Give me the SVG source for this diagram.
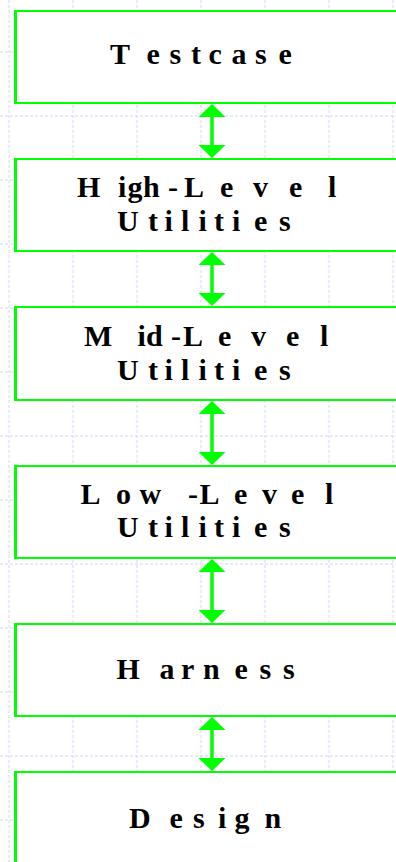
<svg xmlns="http://www.w3.org/2000/svg" width="396" height="862" viewBox="0 0 396 862">
<defs>
<style>
.grid line{stroke:#cfd6f5;stroke-width:1;stroke-dasharray:3 2}
.box rect{fill:#fff;stroke:#00ff00;stroke-width:2}
.box line{stroke:#00ff00;stroke-width:3}
.lbl{font-family:"Liberation Serif","Times New Roman",serif;font-weight:bold;font-size:30px;fill:#000}
.conn line{stroke:#00ff00;stroke-width:3.5}
</style>
<marker id="ah" viewBox="0 0 13 27" refX="1" refY="13.5" markerWidth="13" markerHeight="27" markerUnits="userSpaceOnUse" orient="auto-start-reverse">
<path d="M0,0 L13,13.5 L0,27 z" fill="#00ff00"/>
</marker>
</defs>
<rect width="396" height="862" fill="#fff"/>
<g class="grid">
<line x1="9" y1="0" x2="9" y2="862"/>
<line x1="73" y1="0" x2="73" y2="862"/>
<line x1="137" y1="0" x2="137" y2="862"/>
<line x1="201" y1="0" x2="201" y2="862"/>
<line x1="265" y1="0" x2="265" y2="862"/>
<line x1="329" y1="0" x2="329" y2="862"/>
<line x1="393" y1="0" x2="393" y2="862"/>
<line x1="0" y1="52" x2="396" y2="52"/>
<line x1="0" y1="116" x2="396" y2="116"/>
<line x1="0" y1="180" x2="396" y2="180"/>
<line x1="0" y1="244" x2="396" y2="244"/>
<line x1="0" y1="308" x2="396" y2="308"/>
<line x1="0" y1="372" x2="396" y2="372"/>
<line x1="0" y1="436" x2="396" y2="436"/>
<line x1="0" y1="500" x2="396" y2="500"/>
<line x1="0" y1="564" x2="396" y2="564"/>
<line x1="0" y1="628" x2="396" y2="628"/>
<line x1="0" y1="692" x2="396" y2="692"/>
<line x1="0" y1="756" x2="396" y2="756"/>
<line x1="0" y1="820" x2="396" y2="820"/>
</g>
<g id="testcase" class="box">
<rect x="15" y="11" width="400" height="92"/>
<line x1="15.5" y1="10" x2="15.5" y2="104"/>
<text class="lbl" x="110 146.5 169.5 191 208.5 231.5 255 278.5" y="64">Testcase</text>
</g>
<g id="high-level" class="box">
<rect x="15" y="159" width="400" height="92"/>
<line x1="15.5" y1="158" x2="15.5" y2="252"/>
<text class="lbl" x="77 118 127.5 143 168 184 220 253 289 328" y="197">High-Level</text>
<text class="lbl" x="117 148 164.5 181 198.5 214 232 254 279" y="231">Utilities</text>
</g>
<g id="mid-level" class="box">
<rect x="15" y="307" width="400" height="93"/>
<line x1="15.5" y1="306" x2="15.5" y2="401"/>
<text class="lbl" x="84 137.5 146 171 183 218 251 286 320" y="346">Mid-Level</text>
<text class="lbl" x="117 148 164.5 181 198.5 214 232 254 279" y="380">Utilities</text>
</g>
<g id="low-level" class="box">
<rect x="15" y="466" width="400" height="92"/>
<line x1="15.5" y1="465" x2="15.5" y2="559"/>
<text class="lbl" x="80.5 116 139.5 188 199.5 234 262 291 325" y="504">Low-Level</text>
<text class="lbl" x="117 148 164.5 181 198.5 214 232 254 279" y="537">Utilities</text>
</g>
<g id="harness" class="box">
<rect x="15" y="624" width="400" height="92"/>
<line x1="15.5" y1="623" x2="15.5" y2="717"/>
<text class="lbl" x="116.5 159.5 181 203 234.5 259.5 283" y="679">Harness</text>
</g>
<g id="design" class="box">
<rect x="15" y="772" width="400" height="100"/>
<line x1="15.5" y1="771" x2="15.5" y2="862"/>
<text class="lbl" x="129 169.5 193 218 234.5 264.5" y="828">Design</text>
</g>
<g id="connectors" class="conn">
<line x1="212" y1="116" x2="212" y2="146" marker-start="url(#ah)" marker-end="url(#ah)"/>
<line x1="212" y1="264" x2="212" y2="294" marker-start="url(#ah)" marker-end="url(#ah)"/>
<line x1="212" y1="413" x2="212" y2="453" marker-start="url(#ah)" marker-end="url(#ah)"/>
<line x1="212" y1="571" x2="212" y2="611" marker-start="url(#ah)" marker-end="url(#ah)"/>
<line x1="212" y1="729" x2="212" y2="759" marker-start="url(#ah)" marker-end="url(#ah)"/>
</g>
</svg>
